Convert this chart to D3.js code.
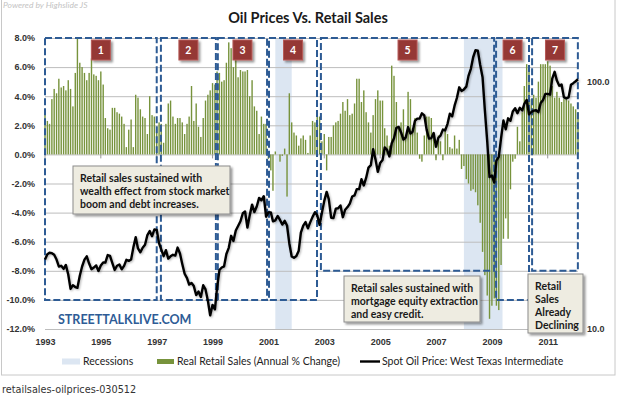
<!DOCTYPE html>
<html>
<head>
<meta charset="utf-8">
<script src="https://cdn.jsdelivr.net/npm/d3@7"></script>
<style>
  body { margin: 0; background: #fff; }
  svg { display: block; }
</style>
</head>
<body>
<script>
var w = 618; // Width of the page
var h = 396; // Height of the page
var margin = {top: 38, right: 40, bottom: 67, left: 45};

// Monthly data starts in Jan 1993
var startYear = 1993;

// Real retail sales, annual % change (monthly, Jan 1993 - Feb 2012)
var retailSales = [
    3.1, 2.3, 2.1, 3.8, 4.5, 4.2, 5.2, 4.6, 4.7, 4.4, 5.1, 4.5,      // 1993
    3.3, 5.6, 8.0, 6.3, 6.0, 5.6, 5.1, 5.6, 6.6, 5.5, 5.4, 5.1,      // 1994
    5.7, 4.8, 2.5, 1.8, 1.7, 3.2, 3.2, 2.9, 2.8, 2.6, 2.1, 0.5,      // 1995
    1.7, 2.4, 0.5, 4.1, 3.9, 3.1, 2.6, 2.5, 1.4, 4.0, 2.7, 2.6,      // 1996
    1.9, 2.2, 2.1, 0.8, 2.1, 3.5, 3.7, 2.6, 2.1, 2.5, 2.5, 2.2,      // 1997
    1.4, 2.1, 2.6, 4.7, 2.3, 3.5, 1.9, 1.2, 2.5, 3.7, 4.1, 4.4,      // 1998
    4.9, 4.8, 5.7, 5.6, 5.0, 5.1, 6.3, 7.7, 7.3, 6.0, 6.5, 5.3,      // 1999
    5.8, 5.7, 5.7, 5.8, 4.0, 5.1, 3.3, 3.0, 1.4, 2.6, 2.1, 2.1,      // 2000
    -0.3, -1.1, -2.5, 0.2, 0.0, -0.5, -0.1, 0.4, -2.9, 4.2, 2.2, 1.5, // 2001
    1.3, 0.6, 1.1, 1.3, 1.0, 0.1, 1.3, 2.3, 2.2, 2.8, 2.6, 0.9,      // 2002
    1.4, -1.1, 1.2, 1.2, 2.0, 2.2, 2.3, 2.8, 3.6, 3.0, 3.8, 2.7,     // 2003
    2.8, 3.5, 5.2, 5.2, 3.6, 4.4, 2.9, 2.2, 1.5, 2.7, 3.8, 4.4,      // 2004
    3.7, 3.7, 1.8, 1.3, 0.6, 6.1, 5.4, 3.6, 1.8, 2.2, 3.1, 1.3,      // 2005
    4.3, 3.8, 1.8, 2.5, 1.5, -0.3, -0.5, 1.3, 2.6, 2.6, 2.5, 1.3,    // 2006
    -0.4, 1.3, 0.9, -0.4, 1.8, 1.4, 0.5, 0.4, 1.3, 0.4, 1.0, -1.0,   // 2007
    -0.8, -1.7, -2.0, -2.5, -2.4, -2.6, -3.5, -4.7, -6.7, -8.3, -9.7, -11.3, // 2008
    -10.4, -9.9, -10.4, -10.7, -7.6, -5.8, -4.4, -5.8, -2.4, -0.5, -0.3, 1.9, // 2009
    0.9, 2.9, 4.7, 6.2, 5.9, 3.8, 4.1, 3.9, 5.0, 6.2, 6.2, 6.2,      // 2010
    6.4, 6.1, 4.7, 3.9, 4.3, 3.9, 3.6, 3.8, 3.8, 3.7, 3.5, 3.3,      // 2011
    3.1, 2.9                                                         // 2012
];

// Spot oil price, West Texas Intermediate ($/bbl, monthly)
var oilPrice = [
    19.08, 20.05, 20.33, 20.25, 19.95, 19.09, 17.89, 18.01, 17.50, 18.15, 16.61, 14.52,
    15.03, 14.78, 14.68, 16.42, 17.89, 19.06, 19.66, 18.38, 17.45, 17.72, 18.07, 17.16,
    18.04, 18.57, 18.54, 19.90, 19.74, 18.45, 17.33, 18.02, 18.23, 17.43, 17.99, 19.03,
    18.85, 19.09, 21.33, 23.50, 21.17, 20.42, 21.30, 21.90, 23.97, 24.88, 23.71, 25.23,
    25.13, 22.18, 20.97, 19.70, 20.82, 19.26, 19.66, 19.95, 19.80, 21.33, 20.19, 18.33,
    16.72, 16.06, 15.12, 15.35, 14.91, 13.72, 14.17, 13.47, 15.03, 14.46, 13.00, 11.35,
    12.52, 12.01, 14.68, 17.31, 17.72, 17.92, 20.10, 21.28, 23.80, 22.69, 25.00, 26.10,
    27.26, 29.37, 29.84, 25.72, 28.79, 31.82, 29.70, 31.26, 33.88, 33.11, 34.42, 28.44,
    29.59, 29.61, 27.25, 27.49, 28.63, 27.60, 26.43, 27.37, 26.20, 22.17, 19.64, 19.39,
    19.72, 20.72, 24.53, 26.18, 27.04, 25.52, 26.97, 28.39, 29.66, 28.84, 26.35, 29.46,
    32.95, 35.83, 33.51, 28.17, 28.11, 30.66, 30.76, 31.57, 28.31, 30.34, 31.11, 32.13,
    34.31, 34.69, 36.74, 36.75, 40.28, 38.03, 40.78, 44.90, 45.94, 53.28, 48.47, 43.15,
    46.84, 48.15, 54.19, 52.98, 49.83, 56.35, 59.00, 64.99, 65.59, 62.26, 58.32, 59.41,
    65.49, 61.63, 62.69, 69.44, 70.84, 70.95, 74.41, 73.04, 63.80, 58.89, 59.08, 61.96,
    54.51, 59.28, 60.44, 63.98, 63.46, 67.49, 74.12, 72.36, 79.92, 85.80, 94.77, 91.69,
    92.97, 95.39, 105.45, 112.58, 125.40, 133.88, 133.37, 116.67, 104.11, 76.61, 57.31, 41.12,
    41.71, 39.09, 47.94, 49.65, 59.03, 69.64, 64.15, 71.05, 69.41, 75.72, 77.99, 74.47,
    78.33, 76.39, 81.20, 84.29, 73.74, 75.34, 76.32, 76.60, 75.24, 81.89, 84.25, 89.15,
    89.17, 88.58, 102.86, 109.53, 100.90, 96.26, 97.30, 86.33, 85.52, 86.32, 97.16, 98.56,
    100.27, 102.20
];

// Tick labels
var pctTicks = [8, 6, 4, 2, 0, -2, -4, -6, -8, -10, -12];
var yearTicks = [1993, 1995, 1997, 1999, 2001, 2003, 2005, 2007, 2009, 2011];
var oilTicks = [10, 100];

// Recessions (start, end)
var recessions = [["2001-04-01", "2001-11-01"], ["2008-01-01", "2009-05-20"]];

// Numbered periods: decimal year from / to and bottom (% value) of the dashed box
var periodNames = ["1", "2", "3", "4", "5", "6", "7"];
var periodFrom = [1993.0, 1997.15, 1999.19, 2001.02, 2002.88, 2009.15, 2010.44];
var periodTo = [1997.0, 1999.12, 2000.95, 2002.74, 2009.08, 2010.33, 2012.08];
var periodLow = [-10, -10, -10, -10, -8, -10, -8];
var periodHigh = 8;

// Text in the callout boxes
var noteStock = ["Retail sales sustained with", "wealth effect from stock market", "boom and debt increases."];
var noteCredit = ["Retail sales sustained with", "mortgage equity extraction", "and easy credit."];
var noteDecline = ["Retail", "Sales", "Already", "Declining"];

var legendNames = ["Recessions", "Real Retail Sales (Annual % Change)", "Spot Oil Price: West Texas Intermediate"];

var green = "#77933c";
var dashBlue = "#2d5b94";

var months = retailSales.map(function(d, i) { return new Date(startYear, i, 1); });

function yearToDate(y) {
    var yr = Math.floor(y);
    var a = new Date(yr, 0, 1), b = new Date(yr + 1, 0, 1);
    return new Date(+a + (y - yr) * (b - a));
}

// Scales
var xScale = d3.scaleTime()
    .domain([new Date(startYear, 0, 1), new Date(2012, 1, 1)])
    .range([margin.left, w - margin.right]);

var yScale = d3.scaleLinear()
    .domain([-12, 8])
    .range([h - margin.bottom, margin.top]);

var oilScale = d3.scaleLog()
    .domain([10, 150])
    .range([h - margin.bottom, margin.top]);

var svg = d3.select("body")
    .append("svg")
    .attr("width", w)
    .attr("height", h)
    .style("font-family", "Lato, sans-serif");

// Shadows
var defs = svg.append("defs");
defs.append("filter").attr("id", "boxShadow")
    .attr("x", "-20%").attr("y", "-20%").attr("width", "150%").attr("height", "150%")
    .append("feDropShadow")
    .attr("dx", 2).attr("dy", 2).attr("stdDeviation", 1.3)
    .attr("flood-color", "#000").attr("flood-opacity", 0.4);
defs.append("filter").attr("id", "lineShadow")
    .attr("x", "-5%").attr("y", "-5%").attr("width", "110%").attr("height", "110%")
    .append("feDropShadow")
    .attr("dx", 1).attr("dy", 1).attr("stdDeviation", 0.8)
    .attr("flood-color", "#000").attr("flood-opacity", 0.3);

// Chart frame
svg.append("rect")
    .attr("x", 1.5).attr("y", -2)
    .attr("width", w - 4.5).attr("height", 377)
    .attr("fill", "#fff")
    .attr("stroke", "#c8c8c8");

svg.append("text")
    .attr("x", 3).attr("y", 8)
    .attr("font-size", 8.5)
    .attr("font-style", "italic")
    .attr("fill", "#c4c4c4")
    .text("Powered by  Highslide JS");

// Title
svg.append("text")
    .attr("x", 308).attr("y", 23)
    .attr("text-anchor", "middle")
    .attr("font-size", 14.5)
    .attr("font-weight", "bold")
    .attr("fill", "#1a1a1a")
    .text("Oil Prices Vs. Retail Sales");

// Recession bands
svg.append("g")
    .selectAll("rect")
    .data(recessions)
    .join("rect")
    .attr("x", function(d) { return xScale(new Date(d[0])); })
    .attr("y", margin.top)
    .attr("width", function(d) { return xScale(new Date(d[1])) - xScale(new Date(d[0])); })
    .attr("height", h - margin.bottom - margin.top)
    .attr("fill", "#dce6f2");

// Left axis with gridlines
var yAxis = d3.axisLeft(yScale)
    .tickValues(pctTicks)
    .tickSize(-(w - margin.left - margin.right))
    .tickPadding(10)
    .tickFormat(function(d) { return d.toFixed(1) + "%"; });

var yG = svg.append("g")
    .attr("class", "y-axis")
    .attr("transform", "translate(" + margin.left + ",0)")
    .call(yAxis);
yG.select(".domain").remove();
yG.selectAll("line").attr("stroke", "#bdbdbd");
yG.selectAll("text")
    .attr("font-family", "'Liberation Sans', Arial, sans-serif")
    .attr("font-size", 9)
    .attr("font-weight", "bold")
    .attr("fill", "#333");

// Right axis (oil price, log)
var oilAxis = d3.axisRight(oilScale)
    .tickValues(oilTicks)
    .tickSize(0)
    .tickPadding(9)
    .tickFormat(function(d) { return d.toFixed(1); });

var oG = svg.append("g")
    .attr("transform", "translate(" + (w - margin.right) + ",0)")
    .call(oilAxis);
oG.select(".domain").remove();
oG.selectAll("text")
    .attr("font-family", "'Liberation Sans', Arial, sans-serif")
    .attr("font-size", 9)
    .attr("font-weight", "bold")
    .attr("fill", "#333");

// Bottom axis
var xAxis = d3.axisBottom(xScale)
    .tickValues(yearTicks.map(function(y) { return new Date(y, 0, 1); }))
    .tickSize(0)
    .tickPadding(10)
    .tickFormat(d3.timeFormat("%Y"));

var xG = svg.append("g")
    .attr("transform", "translate(0," + (h - margin.bottom) + ")")
    .call(xAxis);
xG.select(".domain").remove();
xG.selectAll("text")
    .attr("font-family", "'Liberation Sans', Arial, sans-serif")
    .attr("font-size", 9)
    .attr("font-weight", "bold")
    .attr("fill", "#333");

// small year ticks on the zero line
svg.append("g")
    .selectAll("line")
    .data(yearTicks)
    .join("line")
    .attr("x1", function(d) { return xScale(new Date(d, 0, 1)); })
    .attr("x2", function(d) { return xScale(new Date(d, 0, 1)); })
    .attr("y1", yScale(0))
    .attr("y2", yScale(0) + 4)
    .attr("stroke", "#999");

// Retail sales bars
svg.append("g")
    .selectAll("rect")
    .data(retailSales)
    .join("rect")
    .attr("x", function(d, i) { return xScale(months[i]) - 0.7; })
    .attr("y", function(d) { return yScale(Math.max(0, d)); })
    .attr("width", 1.4)
    .attr("height", function(d) { return Math.abs(yScale(d) - yScale(0)); })
    .attr("fill", green);

// Dashed period boxes
svg.append("g")
    .selectAll("rect")
    .data(periodNames)
    .join("rect")
    .attr("x", function(d, i) { return xScale(yearToDate(periodFrom[i])); })
    .attr("y", yScale(periodHigh))
    .attr("width", function(d, i) { return xScale(yearToDate(periodTo[i])) - xScale(yearToDate(periodFrom[i])); })
    .attr("height", function(d, i) { return yScale(periodLow[i]) - yScale(periodHigh); })
    .attr("fill", "none")
    .attr("stroke", dashBlue)
    .attr("stroke-width", 2)
    .attr("stroke-dasharray", "7,3");

// Oil price line
var line = d3.line()
    .x(function(d, i) { return xScale(months[i]); })
    .y(function(d) { return oilScale(d); });

svg.append("path")
    .datum(oilPrice)
    .attr("d", line)
    .attr("fill", "none")
    .attr("stroke", "#000")
    .attr("stroke-width", 2.4)
    .attr("stroke-linejoin", "round")
    .attr("filter", "url(#lineShadow)");

// Numbered labels
var labels = svg.append("g")
    .selectAll("g")
    .data(periodNames)
    .join("g")
    .attr("transform", function(d, i) {
        var cx = (xScale(yearToDate(periodFrom[i])) + xScale(yearToDate(periodTo[i]))) / 2;
        return "translate(" + cx + "," + (yScale(periodHigh) + 12) + ")";
    });
labels.append("rect")
    .attr("x", -9.5).attr("y", -10)
    .attr("width", 19).attr("height", 20)
    .attr("fill", "#953735")
    .attr("stroke", "#b65a58")
    .attr("filter", "url(#boxShadow)");
labels.append("text")
    .attr("text-anchor", "middle")
    .attr("y", 4)
    .attr("font-size", 10.5)
    .attr("font-weight", "bold")
    .attr("fill", "#fff")
    .text(function(d) { return d; });

// Callout boxes
function callout(x, y, bw, bh, lines) {
    var g = svg.append("g").attr("transform", "translate(" + x + "," + y + ")");
    g.append("rect")
        .attr("width", bw).attr("height", bh)
        .attr("fill", "#eeece1")
        .attr("stroke", "#8c8c8c")
        .attr("filter", "url(#boxShadow)");
    g.selectAll("text")
        .data(lines)
        .join("text")
        .attr("x", 7)
        .attr("y", function(d, i) { return 16 + i * 13; })
        .attr("font-size", 10.5)
        .attr("font-weight", "bold")
        .attr("fill", "#1a1a1a")
        .text(function(d) { return d; });
}
callout(73, 166, 157, 48, noteStock);
callout(344, 276, 136, 46, noteCredit);
callout(528, 274, 55, 59, noteDecline);

svg.append("text")
    .attr("x", 58).attr("y", 323.5)
    .attr("font-size", 12.5)
    .attr("font-weight", "bold")
    .attr("fill", "#2e5c96")
    .text("STREETTALKLIVE.COM");

// Legend
var legY = 361.5;
svg.append("rect")
    .attr("x", 62).attr("y", legY - 3).attr("width", 18).attr("height", 6)
    .attr("fill", "#dce6f2");
svg.append("rect")
    .attr("x", 157).attr("y", legY - 2.5).attr("width", 17).attr("height", 5)
    .attr("fill", green);
svg.append("line")
    .attr("x1", 360).attr("x2", 380).attr("y1", legY).attr("y2", legY)
    .attr("stroke", "#000").attr("stroke-width", 2.4);

svg.append("g")
    .selectAll("text")
    .data(legendNames)
    .join("text")
    .attr("x", function(d, i) { return [83, 177, 382][i]; })
    .attr("y", legY + 3.8)
    .attr("font-size", 10.5)
    .attr("fill", "#222")
    .text(function(d) { return d; });

// Caption under the chart
svg.append("text")
    .attr("x", 2).attr("y", 393)
    .attr("font-family", "'DejaVu Sans', Verdana, sans-serif")
    .attr("font-size", 9.7)
    .attr("fill", "#333")
    .text("retailsales-oilprices-030512");
</script>
</body>
</html>
